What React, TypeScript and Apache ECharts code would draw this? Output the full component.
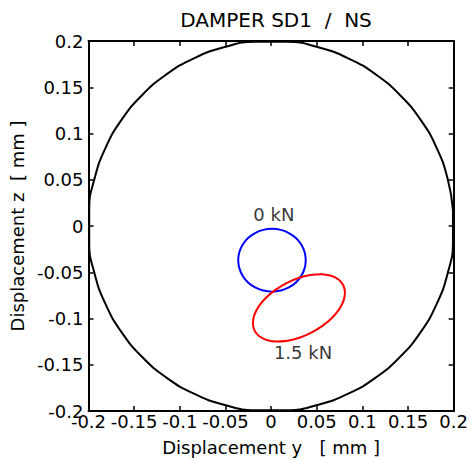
import React, { useEffect, useRef } from "react";
import * as echarts from "echarts";

const titleText = "DAMPER SD1  /  NS";
const xAxisName = "Displacement y   [ mm ]";
const yAxisName = "Displacement z  [ mm ]";
const tickValues = [-0.2, -0.15, -0.1, -0.05, 0, 0.05, 0.1, 0.15, 0.2];

// clearance circle (radius 0.2 mm)
const boundaryCircle: [number, number][] = [
  [0.1992, 0.0174], [0.1932, 0.0518], [0.1813, 0.0845], [0.1638, 0.1147], [0.1414, 0.1414],
  [0.1147, 0.1638], [0.0845, 0.1813], [0.0518, 0.1932], [0.0174, 0.1992],
  [-0.0174, 0.1992], [-0.0518, 0.1932], [-0.0845, 0.1813], [-0.1147, 0.1638], [-0.1414, 0.1414],
  [-0.1638, 0.1147], [-0.1813, 0.0845], [-0.1932, 0.0518], [-0.1992, 0.0174],
  [-0.1992, -0.0174], [-0.1932, -0.0518], [-0.1813, -0.0845], [-0.1638, -0.1147], [-0.1414, -0.1414],
  [-0.1147, -0.1638], [-0.0845, -0.1813], [-0.0518, -0.1932], [-0.0174, -0.1992],
  [0.0174, -0.1992], [0.0518, -0.1932], [0.0845, -0.1813], [0.1147, -0.1638], [0.1414, -0.1414],
  [0.1638, -0.1147], [0.1813, -0.0845], [0.1932, -0.0518], [0.1992, -0.0174],
  [0.1992, 0.0174],
];

// orbit at 0 kN
const orbit0kN: [number, number][] = [
  [0.038, -0.037], [0.0367, -0.0282], [0.033, -0.02], [0.0272, -0.013], [0.0195, -0.0076],
  [0.0106, -0.0042], [0.001, -0.003], [-0.0086, -0.0042], [-0.0175, -0.0076], [-0.0252, -0.013],
  [-0.031, -0.02], [-0.0347, -0.0282], [-0.036, -0.037], [-0.0347, -0.0458], [-0.031, -0.054],
  [-0.0252, -0.061], [-0.0175, -0.0664], [-0.0086, -0.0698], [0.001, -0.071], [0.0106, -0.0698],
  [0.0195, -0.0664], [0.0272, -0.061], [0.033, -0.054], [0.0367, -0.0458], [0.038, -0.037],
];

// orbit at 1.5 kN
const orbit15kN: [number, number][] = [
  [0.0791, -0.0639], [0.0739, -0.0578], [0.0658, -0.0538], [0.0553, -0.0521], [0.043, -0.053],
  [0.03, -0.0562], [0.0169, -0.0617], [0.0048, -0.069], [-0.0056, -0.0776], [-0.0135, -0.0869],
  [-0.0184, -0.0964], [-0.0199, -0.1054], [-0.0181, -0.1131], [-0.0129, -0.1192], [-0.0048, -0.1232],
  [0.0057, -0.1249], [0.018, -0.124], [0.031, -0.1208], [0.0441, -0.1153], [0.0562, -0.108],
  [0.0666, -0.0994], [0.0745, -0.0901], [0.0794, -0.0806], [0.0809, -0.0716], [0.0791, -0.0639],
];

const loadLabels = [
  { name: "0 kN", value: [0.003, 0.012] },
  { name: "1.5 kN", value: [0.035, -0.137] },
];

const FONT = "DejaVu Sans";

export default function App() {
  const ref = useRef<HTMLDivElement>(null);
  useEffect(() => {
    document.body.style.margin = "0";
    const chart = echarts.init(ref.current!, null, { renderer: "svg" });
    const fmt = (v: number) => {
      const hit = tickValues.find((t) => Math.abs(t - v) < 1e-9);
      return String(hit !== undefined ? hit : Number(v.toFixed(2)));
    };
    const baseAxis = {
      type: "value" as const,
      min: -0.2,
      max: 0.2,
      interval: 0.05,
      splitLine: { show: false },
      axisLine: { show: true, onZero: false, lineStyle: { color: "#000", width: 2 } },
      axisTick: { show: true, inside: true, length: 5, lineStyle: { color: "#000", width: 1.5 } },
    };
    const txt = { fontFamily: FONT, fontSize: 18, color: "#000" };
    chart.setOption({
      animation: false,
      backgroundColor: "#fff",
      title: {
        text: titleText,
        left: 271,
        textAlign: "center",
        top: 5,
        textStyle: { fontFamily: FONT, fontSize: 20, fontWeight: "normal", color: "#000" },
      },
      grid: { left: 87, top: 41, width: 370, height: 370 },
      xAxis: [
        {
          ...baseAxis,
          position: "bottom",
          name: xAxisName,
          nameLocation: "middle",
          nameGap: 27,
          nameTextStyle: txt,
          axisLabel: {
            show: true, margin: 1, ...txt,
            showMinLabel: true, showMaxLabel: true, formatter: fmt,
          },
        },
        { ...baseAxis, position: "top", axisLabel: { show: false } },
      ],
      yAxis: [
        {
          ...baseAxis,
          position: "left",
          name: yAxisName,
          nameLocation: "middle",
          nameRotate: 90,
          nameGap: 52,
          nameTextStyle: txt,
          axisLabel: {
            show: true, margin: 5, ...txt,
            showMinLabel: true, showMaxLabel: true, formatter: fmt,
          },
        },
        { ...baseAxis, position: "right", axisLabel: { show: false } },
      ],
      series: [
        {
          type: "line", data: boundaryCircle, showSymbol: false, symbol: "none", smooth: 0.5,
          lineStyle: { color: "#000", width: 2 }, silent: true,
        },
        {
          type: "line", data: orbit0kN, showSymbol: false, symbol: "none", smooth: 0.4,
          lineStyle: { color: "#0000ff", width: 2 }, silent: true,
        },
        {
          type: "line", data: orbit15kN, showSymbol: false, symbol: "none", smooth: 0.4,
          lineStyle: { color: "#ff0000", width: 2 }, silent: true,
        },
        {
          type: "scatter", data: loadLabels, symbolSize: 0, silent: true,
          label: {
            show: true, position: "inside", formatter: (p: any) => p.name,
            ...txt, textBorderWidth: 0,
          },
        },
      ],
    });
    return () => chart.dispose();
  }, []);
  return <div ref={ref} style={{ width: 471, height: 461 }} />;
}
